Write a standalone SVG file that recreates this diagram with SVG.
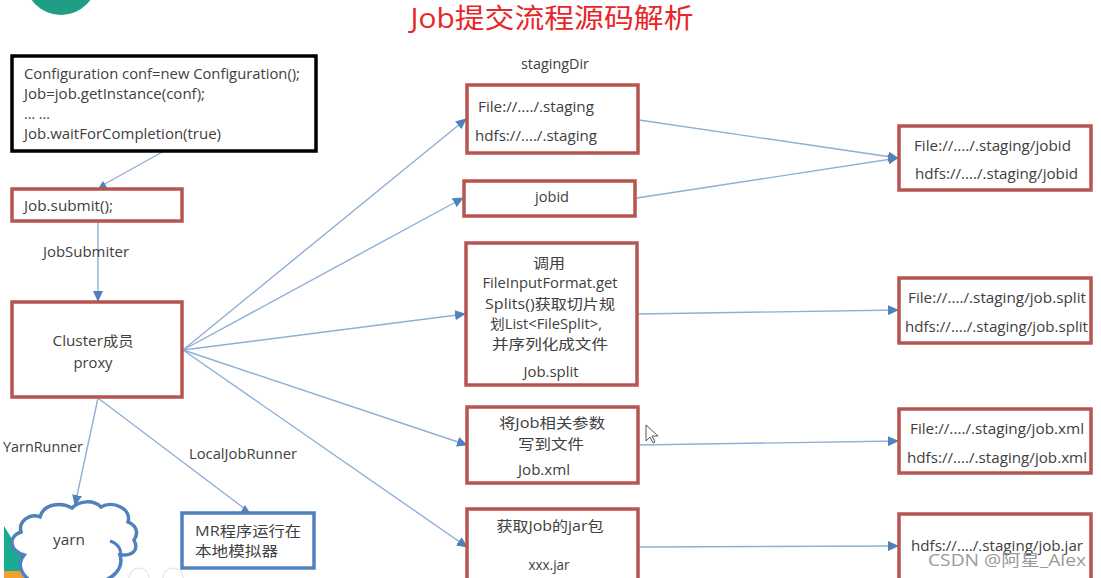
<svg xmlns="http://www.w3.org/2000/svg" width="1101" height="578" viewBox="0 0 1101 578">
<style>
text{font-family:"Open Sans","Noto Sans CJK SC",sans-serif;font-size:14px;fill:#404040}
.m{text-anchor:middle}
.r{fill:#fff;stroke:#b85450;stroke-width:3.5}
.c{fill:none;stroke:#8fafd6;stroke-width:1.4;marker-end:url(#a)}
.u{fill:none;stroke:#8fafd6;stroke-width:1.4;marker-end:url(#b)}
</style>
<defs>
<marker id="a" markerUnits="userSpaceOnUse" markerWidth="12" markerHeight="10" refX="10" refY="5" orient="auto"><path d="M0 0L11 5L0 10Z" fill="#4f81bd"/></marker>
<marker id="b" markerUnits="userSpaceOnUse" markerWidth="10" markerHeight="8" refX="5" refY="4" orient="0"><path d="M0 8L5 0L10 8Z" fill="#4f81bd"/></marker>
</defs>
<rect width="1101" height="578" fill="#fff"/>
<g id="decor">
<circle cx="61" cy="-21" r="36" fill="#1f9e85"/>
<path d="M4 526L4 578L36 578Z" fill="#17ab90"/>
<path d="M4 571H30L36 578H4Z" fill="#f0a030"/>
<g fill="none" stroke="#e6e6e6" stroke-width="1.2"><circle cx="73" cy="578" r="10"/><circle cx="105" cy="578" r="10"/><circle cx="139" cy="578" r="10"/><circle cx="173" cy="578" r="10"/></g>
<path d="M646 425V441L650 437L653 443L655 442L652 436L658 436Z" fill="#fff" stroke="#555" stroke-width="1"/>
</g>
<text id="title" x="552" y="28" class="m" style="font-size:27px;fill:#e8262a" textLength="283" lengthAdjust="spacingAndGlyphs">Job提交流程源码解析</text>
<g id="connectors">
<path class="u" d="M164 151L103 185"/>
<path class="c" d="M98 222V301"/>
<path class="c" d="M183 350L466 119"/>
<path class="c" d="M183 350L463 198"/>
<path class="c" d="M183 350L465 314"/>
<path class="c" d="M183 350L467 445"/>
<path class="c" d="M183 350L467 547"/>
<path class="c" d="M98 398L75 505"/>
<path class="u" d="M98 398L245 509"/>
<path class="c" d="M639 120L898 158"/>
<path class="c" d="M637 198L898 158"/>
<path class="c" d="M638 314L898 310"/>
<path class="c" d="M639 445L898 441"/>
<path class="c" d="M639 547L898 546"/>
</g>
<g id="n-config"><rect x="12" y="56" width="304" height="95" fill="#fff" stroke="#000" stroke-width="3.5"/>
<text x="24" y="79" textLength="276" lengthAdjust="spacingAndGlyphs">Configuration conf=new Configuration();</text>
<text x="24" y="99" textLength="181" lengthAdjust="spacingAndGlyphs">Job=job.getInstance(conf);</text>
<text x="24" y="119" textLength="26" lengthAdjust="spacingAndGlyphs">... ...</text>
<text x="24" y="139" textLength="197" lengthAdjust="spacingAndGlyphs">Job.waitForCompletion(true)</text></g>
<g id="n-submit"><rect class="r" x="12" y="189" width="170" height="32"/><text x="24" y="211" textLength="89" lengthAdjust="spacingAndGlyphs">Job.submit();</text></g>
<text x="43" y="257" textLength="86" lengthAdjust="spacingAndGlyphs">JobSubmiter</text>
<g id="n-cluster"><rect class="r" x="12" y="302" width="170" height="95"/><text x="93" y="346" class="m" textLength="81" lengthAdjust="spacingAndGlyphs">Cluster成员</text><text x="93" y="368" class="m" textLength="39" lengthAdjust="spacingAndGlyphs">proxy</text></g>
<text x="3" y="452" textLength="80" lengthAdjust="spacingAndGlyphs">YarnRunner</text>
<text x="189" y="459" textLength="108" lengthAdjust="spacingAndGlyphs">LocalJobRunner</text>
<g id="n-yarn"><path d="M32 582C20 574 17 563 24 555C10 551 7 537 21 532C18 521 30 513 40 517C44 503 62 502 72 508C80 500 94 500 101 507C113 500 132 509 128 522C138 526 138 535 134 540C139 550 133 556 120 555C124 568 114 578 100 582Z" fill="#fff" stroke="#4f81bd" stroke-width="3.5"/><path d="M110 541C119 544 122 551 120 556" fill="none" stroke="#4f81bd" stroke-width="3"/><text x="69" y="545" class="m" textLength="32" lengthAdjust="spacingAndGlyphs">yarn</text></g>
<g id="n-mr"><rect x="182" y="513" width="132" height="55" fill="#fff" stroke="#4f81bd" stroke-width="3.5"/><text x="195" y="536" textLength="106" lengthAdjust="spacingAndGlyphs">MR程序运行在</text><text x="195" y="556" textLength="83" lengthAdjust="spacingAndGlyphs">本地模拟器</text></g>
<text x="555" y="69" class="m" textLength="68" lengthAdjust="spacingAndGlyphs">stagingDir</text>
<g id="n-staging"><rect class="r" x="467" y="85" width="171" height="68"/><text x="478" y="112" textLength="116" lengthAdjust="spacingAndGlyphs">File://..../.staging</text><text x="475" y="141" textLength="122" lengthAdjust="spacingAndGlyphs">hdfs://..../.staging</text></g>
<g id="n-jobid"><rect class="r" x="464" y="181" width="171" height="35"/><text x="552" y="202" class="m" textLength="34" lengthAdjust="spacingAndGlyphs">jobid</text></g>
<g id="n-split"><rect class="r" x="466" y="243" width="171" height="142"/>
<text x="549" y="268" class="m" textLength="32" lengthAdjust="spacingAndGlyphs">调用</text>
<text x="550" y="288" class="m" textLength="135" lengthAdjust="spacingAndGlyphs">FileInputFormat.get</text>
<text x="550" y="309" class="m" textLength="130" lengthAdjust="spacingAndGlyphs">Splits()获取切片规</text>
<text x="546" y="329" class="m" textLength="112" lengthAdjust="spacingAndGlyphs">划List&lt;FileSplit&gt;,</text>
<text x="550" y="349" class="m" textLength="116" lengthAdjust="spacingAndGlyphs">并序列化成文件</text>
<text x="551" y="377" class="m" textLength="55" lengthAdjust="spacingAndGlyphs">Job.split</text></g>
<g id="n-xml"><rect class="r" x="467" y="407" width="171" height="76"/>
<text x="552" y="428" class="m" textLength="106" lengthAdjust="spacingAndGlyphs">将Job相关参数</text>
<text x="551" y="449" class="m" textLength="66" lengthAdjust="spacingAndGlyphs">写到文件</text>
<text x="544" y="475" class="m" textLength="52" lengthAdjust="spacingAndGlyphs">Job.xml</text></g>
<g id="n-jar"><rect class="r" x="467" y="509" width="171" height="75"/>
<text x="550" y="531" class="m" textLength="107" lengthAdjust="spacingAndGlyphs">获取Job的jar包</text>
<text x="549" y="570" class="m" textLength="41" lengthAdjust="spacingAndGlyphs">xxx.jar</text></g>
<g id="n-r1"><rect class="r" x="899" y="126" width="192" height="64"/><text x="914" y="151" textLength="157" lengthAdjust="spacingAndGlyphs">File://..../.staging/jobid</text><text x="915" y="179" textLength="163" lengthAdjust="spacingAndGlyphs">hdfs://..../.staging/jobid</text></g>
<g id="n-r2"><rect class="r" x="899" y="278" width="192" height="65"/><text x="908" y="303" textLength="178" lengthAdjust="spacingAndGlyphs">File://..../.staging/job.split</text><text x="905" y="332" textLength="183" lengthAdjust="spacingAndGlyphs">hdfs://..../.staging/job.split</text></g>
<g id="n-r3"><rect class="r" x="899" y="409" width="192" height="64"/><text x="910" y="434" textLength="174" lengthAdjust="spacingAndGlyphs">File://..../.staging/job.xml</text><text x="907" y="463" textLength="180" lengthAdjust="spacingAndGlyphs">hdfs://..../.staging/job.xml</text></g>
<g id="n-r4"><rect class="r" x="899" y="514" width="192" height="70"/><text x="911" y="551" textLength="172" lengthAdjust="spacingAndGlyphs">hdfs://..../.staging/job.jar</text></g>
<text x="928" y="566" style="font-size:16px;fill:#9a9a9a" textLength="158" lengthAdjust="spacingAndGlyphs">CSDN @阿星_Alex</text>
</svg>
